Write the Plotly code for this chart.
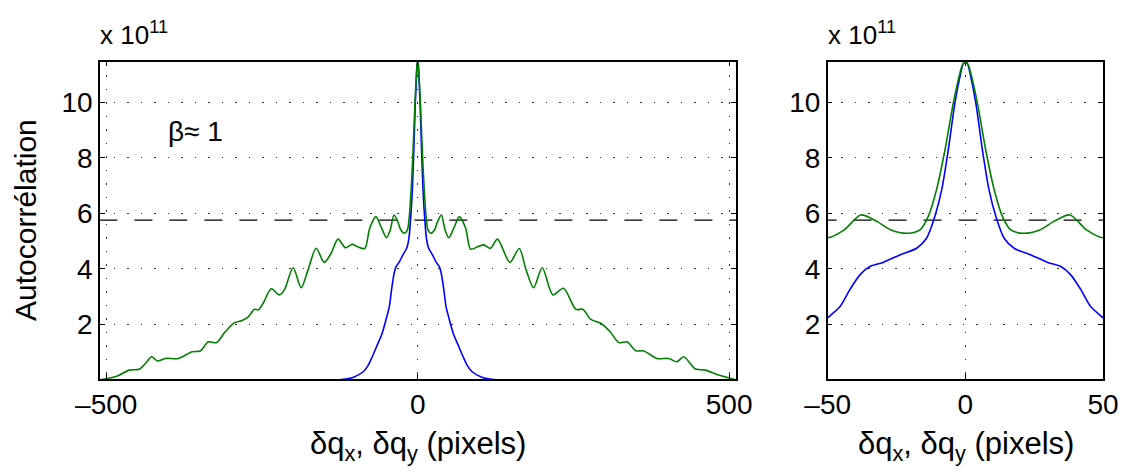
import plotly.graph_objects as go

# ---------------- data (values in units of 1e11) ----------------
green_x = [-510, -482, -463, -447, -437, -427, -418, -405, -384, -362, -349, -336, -323,
           -309, -294, -283, -272, -262, -256, -248, -235, -222, -214, -200, -187, -176,
           -163, -150, -139, -128, -116, -105, -97, -85, -77, -67, -59, -50, -44, -38,
           -32, -27, -21, -16.5, -13.5, -10.5, -7.4, -4.4, -2, -1, 0,
           1, 2, 4.4, 7.4, 10.5, 13.5, 16.5, 21, 27, 32, 38, 44, 50, 59, 67, 77, 85, 97,
           106, 117, 128, 148, 163, 174, 186, 200, 217, 234, 254, 265, 278, 294, 309, 323,
           336, 350, 363, 384, 403, 416, 427, 446, 462, 483, 511]
green_y = [0.0, 0.14, 0.35, 0.38, 0.59, 0.83, 0.68, 0.77, 0.77, 1.01, 1.04, 1.37, 1.34,
           1.73, 2.06, 2.13, 2.27, 2.54, 2.52, 2.76, 3.28, 3.06, 3.24, 4.04, 3.32, 3.96,
           4.74, 4.23, 4.56, 5.07, 4.76, 4.88, 4.80, 4.73, 5.46, 5.88, 5.52, 5.12, 5.40, 5.94,
           5.70, 5.40, 5.28, 5.40, 5.88, 6.84, 8.28, 9.96, 11.04, 11.35, 11.46,
           11.35, 11.04, 9.96, 8.28, 6.84, 5.88, 5.40, 5.28, 5.40, 5.70, 5.94, 5.40, 5.12, 5.52, 5.88, 5.46, 4.71, 4.80,
           4.86, 4.74, 5.07, 4.23, 4.73, 3.96, 3.32, 4.04, 3.06, 3.30, 2.54, 2.54, 2.18, 2.04, 1.73, 1.34,
           1.37, 1.05, 1.04, 0.77, 0.77, 0.65, 0.83, 0.39, 0.35, 0.17, 0.0]

blue_x = [-126, -115, -103, -87, -80, -73, -65, -57, -50, -45.6, -42, -38.3, -34.7, -29.9,
          -23.8, -17.7, -14.1, -11.1, -8.6, -6.2, -3.8, -1.7, -0.8, 0,
          0.8, 1.7, 3.8, 6.2, 8.6, 11.1, 14.1, 17.7, 23.8, 29.9, 34.7, 38.3, 42, 45.6, 50,
          57, 65, 73, 80, 87, 103, 115, 126]
blue_y = [0.0, 0.03, 0.09, 0.30, 0.50, 0.83, 1.25, 1.68, 2.24, 2.63, 3.24, 3.78, 4.08, 4.23,
          4.50, 4.74, 5.10, 5.88, 6.84, 8.28, 9.97, 11.04, 11.38, 11.46,
          11.38, 11.04, 9.97, 8.28, 6.84, 5.88, 5.10, 4.74, 4.50, 4.23, 4.08, 3.78, 3.24, 2.63, 2.24,
          1.68, 1.25, 0.83, 0.50, 0.30, 0.09, 0.03, 0.0]

half_max = 5.75
hm_x = [-511, 512]

left_ticks = [-500, 0, 500]
left_ticktext = ["\u2013500", "0", "500"]
right_ticks = [-50, 0, 50]
right_ticktext = ["\u201350", "0", "50"]
y_ticks = [2, 4, 6, 8, 10]
y_ticktext = ["2", "4", "6", "8", "10"]

OFF = 8  # page body margin
W, H = 1128 - OFF, 472 - OFF
FONT = "Liberation Sans, Arial, sans-serif"

def fx(px):
    return (px - OFF) / W

def fy(py):
    return 1 - (py - OFF) / H

fig = go.Figure()

for xa, ya in [("x", "y"), ("x2", "y2")]:
    fig.add_trace(go.Scatter(x=hm_x, y=[half_max, half_max], mode="lines",
                             line=dict(color="black", width=1.3, dash="18px,17px"),
                             xaxis=xa, yaxis=ya, showlegend=False, hoverinfo="skip"))
    fig.add_trace(go.Scatter(x=blue_x, y=blue_y, mode="lines",
                             line=dict(color="#0000ff", width=1.6, shape="spline", smoothing=0.8),
                             xaxis=xa, yaxis=ya, showlegend=False))
    fig.add_trace(go.Scatter(x=green_x, y=green_y, mode="lines",
                             line=dict(color="#008000", width=1.6, shape="spline", smoothing=0.8),
                             xaxis=xa, yaxis=ya, showlegend=False))

grid = dict(showgrid=True, gridcolor="#333333", gridwidth=1, griddash="1.5px,12px",
            zeroline=False, showline=True, linecolor="black", linewidth=1.5, mirror="ticks",
            ticks="inside", ticklen=5, tickcolor="black", tickwidth=1, automargin=False,
            tickfont=dict(family=FONT, size=28, color="black"))

ydom = [fy(379), fy(61.7)]
fig.update_layout(
    width=W, height=H, margin=dict(l=0, r=0, t=0, b=0),
    paper_bgcolor="white", plot_bgcolor="white",
    xaxis=dict(domain=[fx(100), fx(736)], range=[-510, 511], tickvals=left_ticks,
               ticktext=left_ticktext, **grid),
    yaxis=dict(domain=ydom, range=[0.03, 11.46], tickvals=y_ticks, ticktext=y_ticktext, **grid),
    xaxis2=dict(domain=[fx(827.7), fx(1103)], range=[-50, 50], tickvals=right_ticks,
                ticktext=right_ticktext, anchor="y2", **grid),
    yaxis2=dict(domain=ydom, range=[0.03, 11.46], tickvals=y_ticks, ticktext=y_ticktext,
                anchor="x2", **grid),
)

def ann(text, px, py, size, xanchor="center", yanchor="middle", angle=0):
    fig.add_annotation(text=text, x=fx(px), y=fy(py), xref="paper", yref="paper",
                       xanchor=xanchor, yanchor=yanchor, showarrow=False, textangle=angle,
                       font=dict(family=FONT, size=size, color="black"))

mult = "x 10<sup>11</sup>"
ann(mult, 98, 34, 26, xanchor="left")
ann(mult, 826, 34, 26, xanchor="left")
ann("\u03b2\u2248 1", 166, 132, 28, xanchor="left")
ann("Autocorr\u00e9lation", 25, 220, 30, angle=-90)
xtitle = "\u03b4q<sub>x</sub>, \u03b4q<sub>y</sub> (pixels)"
ann(xtitle, 417.5, 446, 31)
ann(xtitle, 965.5, 446, 31)

fig.write_html("out.html")
